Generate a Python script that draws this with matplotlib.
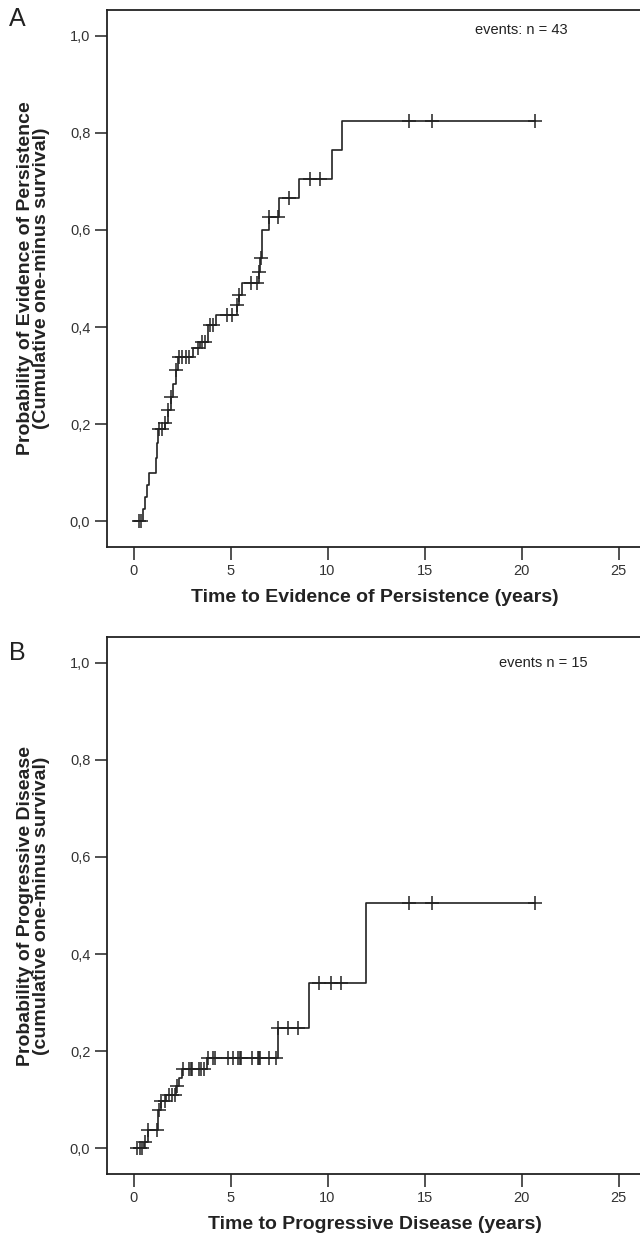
import numpy as np
import matplotlib.pyplot as plt

plt.rcParams['font.family'] = ['Liberation Sans', 'DejaVu Sans']

# Panel A: time to evidence of persistence (years)
a_event_t = [0.50, 0.60, 0.70, 0.80, 1.17, 1.22, 1.28, 1.60, 1.79, 1.92, 2.05, 2.19,
             2.31, 3.08, 3.45, 3.82, 4.24, 5.32, 5.45, 5.58, 6.47, 6.52, 6.61, 6.98,
             7.48, 8.53, 10.23, 10.77]
a_event_p = [0.025, 0.05, 0.075, 0.10, 0.13, 0.16, 0.19, 0.203, 0.229, 0.256, 0.283, 0.311,
             0.339, 0.356, 0.370, 0.404, 0.425, 0.445, 0.466, 0.490, 0.514, 0.542, 0.600, 0.627,
             0.665, 0.705, 0.765, 0.825]
a_censor = [0.27, 0.38, 1.30, 1.48, 1.62, 1.80, 1.92, 2.19, 2.33, 2.52, 2.71, 2.88,
            3.31, 3.55, 3.67, 3.95, 4.10, 4.80, 5.06, 5.32, 5.45, 6.06, 6.35, 6.47, 6.55,
            7.00, 7.43, 8.00, 9.08, 9.60, 14.18, 15.37, 20.72]

# Panel B: time to progressive disease (years)
b_event_t = [0.55, 0.75, 1.27, 1.44, 1.70, 2.20, 2.35, 2.50, 3.79, 7.45, 9.06, 11.96]
b_event_p = [0.012, 0.038, 0.078, 0.096, 0.110, 0.127, 0.145, 0.162, 0.185, 0.248, 0.341, 0.506]
b_censor = [0.20, 0.32, 0.45, 0.60, 0.76, 1.22, 1.30, 1.44, 1.61, 1.82, 1.99, 2.12,
            2.25, 2.56, 2.88, 2.95, 3.00, 3.36, 3.48, 3.62, 3.82, 4.08, 4.18, 4.86, 5.13,
            5.41, 5.48, 5.56, 6.10, 6.41, 6.46, 6.53, 6.99, 7.35, 7.47, 7.98, 8.50, 9.56,
            10.18, 10.68, 14.20, 15.40, 20.70]

xticks = [0, 5, 10, 15, 20, 25]
yticks = [0.0, 0.2, 0.4, 0.6, 0.8, 1.0]

ink = '#222222'

fig = plt.figure(figsize=(6.4, 12.36), dpi=100)
W, H = 640, 1236


def km_panel(top_px, ev_t, ev_p, cens, xlabel, ylabel, note, note_x, note_y, letter, letter_y):
    ax = fig.add_axes([107 / W, 1 - (top_px + 537) / H, 535 / W, 537 / H])
    t = np.concatenate([[0.0], ev_t, [max(cens)]])
    p = np.concatenate([[0.0], ev_p, [ev_p[-1]]])
    ax.step(t, p, where='post', color=ink, lw=1.2)
    idx = np.searchsorted(t, cens, side='right') - 1
    ax.plot(cens, p[idx], ls='none', marker='+', ms=10, mew=1.1, color=ink)

    ax.set_xlim(-1.366, 26.21)
    ax.set_ylim(-0.0536, 1.0536)
    ax.set_xticks(xticks)
    ax.set_yticks(yticks)
    ax.set_yticklabels([f'{v:.1f}'.replace('.', ',') for v in yticks])
    ax.tick_params(direction='out', length=9, width=1.1, color=ink,
                   labelsize=10.5, labelcolor='#333333', pad=3)
    ax.spines['right'].set_visible(False)
    for s in ['left', 'bottom', 'top']:
        ax.spines[s].set_linewidth(1.3)
        ax.spines[s].set_color(ink)
    ax.set_xlabel(xlabel, fontsize=14, fontweight='bold', color=ink, labelpad=8)
    ax.set_ylabel(ylabel, fontsize=14, fontweight='bold', color=ink, labelpad=14,
                  linespacing=0.95)
    ax.text(note_x, note_y, note, fontsize=10.5, color=ink, ha='center', va='center')
    fig.text(9 / W, 1 - letter_y / H, letter, fontsize=18, color=ink,
             ha='left', va='center')
    return ax


km_panel(10, a_event_t, a_event_p, a_censor,
         'Time to Evidence of Persistence (years)',
         'Probability of Evidence of Persistence\n(Cumulative one-minus survival)',
         'events: n = 43', 19.97, 1.012, 'A', 19)
km_panel(637, b_event_t, b_event_p, b_censor,
         'Time to Progressive Disease (years)',
         'Probability of Progressive Disease\n(cumulative one-minus survival)',
         'events n = 15', 21.1, 1.0, 'B', 653)

fig.savefig('out.png', dpi=100)
